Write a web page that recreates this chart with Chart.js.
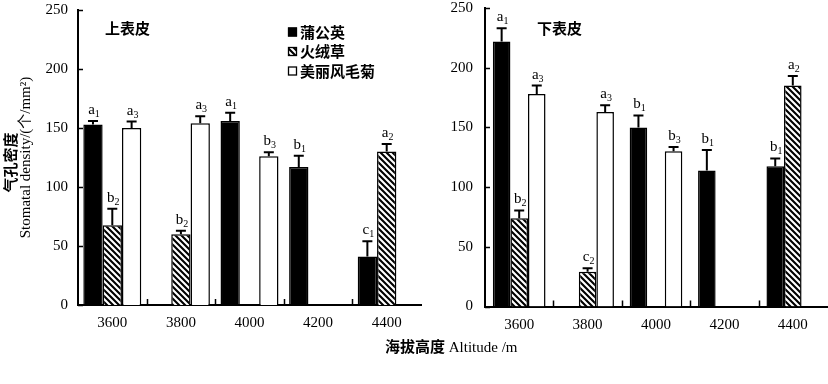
<!DOCTYPE html>
<html><head><meta charset="utf-8">
<script src="https://cdn.jsdelivr.net/npm/chart.js@4"></script>
<style>
html,body{margin:0;padding:0;background:#fff;}
#wrap{position:relative;width:828px;height:384px;overflow:hidden;background:#fff;}
#c1{position:absolute;left:0;top:0;}
#c2{position:absolute;left:424px;top:0;}
#xt{position:absolute;left:385px;top:337px;white-space:nowrap;font:15px 'Liberation Serif',serif;line-height:18px;color:#000;}
#xt .cj{font-family:'Noto Sans CJK SC',sans-serif;font-weight:bold;}
</style>
</head><body>
<div id="wrap">
<canvas id="c1" width="424" height="384"></canvas>
<canvas id="c2" width="404" height="384"></canvas>
<div id="xt"><span class="cj">海拔高度</span> Altitude /m</div>
</div>
<script>
const categories = ['3600','3800','4000','4200','4400'];
const seriesNames = ['蒲公英','火绒草','美丽风毛菊'];
const yTicks = [0,50,100,150,200,250];

// 上表皮 (upper epidermis)
const upperDandelion = [153, null, 156, 117, 41];
const upperDandelionErr = [3, null, 7, 9.5, 13];
const upperDandelionSig = ['a1', null, 'a1', 'b1', 'c1'];
const upperEdelweiss = [67.5, 60, null, null, 130];
const upperEdelweissErr = [14, 3, null, null, 6.5];
const upperEdelweissSig = ['b2', 'b2', null, null, 'a2'];
const upperSaussurea = [150, 154, 126, null, null];
const upperSaussureaErr = [5.5, 6, 3.5, null, null];
const upperSaussureaSig = ['a3', 'a3', 'b3', null, null];

// 下表皮 (lower epidermis)
const lowerDandelion = [222, null, 150, 114, 117.5];
const lowerDandelionErr = [11, null, 10, 17, 6.5];
const lowerDandelionSig = ['a1', null, 'b1', 'b1', 'b1'];
const lowerEdelweiss = [74, 29, null, null, 185];
const lowerEdelweissErr = [6.5, 3, null, null, 8];
const lowerEdelweissSig = ['b2', 'c2', null, null, 'a2'];
const lowerSaussurea = [178, 163, 130, null, null];
const lowerSaussureaErr = [7, 5.5, 3.5, null, null];
const lowerSaussureaSig = ['a3', 'a3', 'b3', null, null];

const SERIF = "'Liberation Serif', 'Noto Sans CJK SC', serif";
const CJK = "'Noto Sans CJK SC', sans-serif";

function hatchPattern() {
  const s = 6;
  const c = document.createElement('canvas');
  c.width = s; c.height = s;
  const g = c.getContext('2d');
  g.fillStyle = '#fff'; g.fillRect(0, 0, s, s);
  g.strokeStyle = '#000'; g.lineWidth = 2.1;
  g.beginPath();
  for (let k = -1; k <= 1; k++) {
    g.moveTo(k * s - 1, -1);
    g.lineTo(k * s + s + 1, s + 1);
  }
  g.stroke();
  return g.createPattern(c, 'repeat');
}
const HATCH = hatchPattern();

const innerTicks = {
  id: 'innerTicks',
  afterDraw(chart) {
    const {ctx, chartArea: ca, scales: {x, y}} = chart;
    ctx.save();
    ctx.strokeStyle = '#000'; ctx.lineWidth = 1.5;
    ctx.beginPath();
    y.ticks.forEach(t => {
      const py = Math.round(y.getPixelForValue(t.value)) + 0.5;
      ctx.moveTo(ca.left, py); ctx.lineTo(ca.left + 5, py);
    });
    for (let i = 1; i < chart.data.labels.length; i++) {
      const px = Math.round((x.getPixelForValue(i - 1) + x.getPixelForValue(i)) / 2) + 0.5;
      ctx.moveTo(px, ca.bottom); ctx.lineTo(px, ca.bottom - 6);
    }
    ctx.stroke();
    ctx.restore();
  }
};

const errorBars = {
  id: 'errorBars',
  afterDatasetsDraw(chart) {
    const {ctx, scales: {y}} = chart;
    ctx.save();
    chart.data.datasets.forEach((ds, di) => {
      const meta = chart.getDatasetMeta(di);
      ds.data.forEach((v, j) => {
        if (v == null) return;
        const bar = meta.data[j];
        const top = y.getPixelForValue(v + ds.errors[j]);
        ctx.strokeStyle = '#000'; ctx.lineWidth = 2;
        ctx.beginPath();
        ctx.moveTo(bar.x, bar.y); ctx.lineTo(bar.x, top);
        ctx.moveTo(bar.x - 5, top); ctx.lineTo(bar.x + 5, top);
        ctx.stroke();
        const s = ds.sig[j];
        if (!s) return;
        const letter = s[0], sub = s.slice(1);
        ctx.fillStyle = '#000';
        ctx.textBaseline = 'alphabetic'; ctx.textAlign = 'left';
        ctx.font = '15px ' + SERIF;
        const w1 = ctx.measureText(letter).width;
        ctx.font = '10px ' + SERIF;
        const w2 = ctx.measureText(sub).width;
        const x0 = bar.x - (w1 + w2) / 2 + 1;
        const base = top - 7;
        ctx.font = '15px ' + SERIF;
        ctx.fillText(letter, x0, base);
        ctx.font = '10px ' + SERIF;
        ctx.fillText(sub, x0 + w1, base + 3);
      });
    });
    ctx.restore();
  }
};

const decorations = {
  id: 'decorations',
  afterDraw(chart, args, opts) {
    const {ctx, chartArea: ca} = chart;
    ctx.save();
    ctx.fillStyle = '#000';
    ctx.font = 'bold 15px ' + CJK;
    ctx.textBaseline = 'middle'; ctx.textAlign = 'left';
    ctx.fillText(opts.panelTitle, opts.titleX, 28);
    if (opts.legend) {
      chart.data.datasets.forEach((ds, i) => {
        const yy = 32 + i * 19.5;
        ctx.fillStyle = ds.backgroundColor;
        ctx.fillRect(288, yy - 4.5, 9, 9);
        ctx.strokeStyle = '#000'; ctx.lineWidth = 1.3;
        ctx.strokeRect(288.5, yy - 4, 8, 8);
        ctx.fillStyle = '#000';
        ctx.font = 'bold 15px ' + CJK;
        ctx.fillText(ds.label, 300, yy);
      });
    }
    if (opts.yTitle) {
      const cy = (ca.top + ca.bottom) / 2;
      ctx.textAlign = 'center'; ctx.textBaseline = 'middle';
      ctx.save();
      ctx.translate(10, cy + 5); ctx.rotate(-Math.PI / 2);
      ctx.font = 'bold 15px ' + CJK;
      ctx.fillText('气孔密度', 0, 0);
      ctx.restore();
      ctx.save();
      ctx.translate(26, cy); ctx.rotate(-Math.PI / 2);
      ctx.font = '15px ' + SERIF;
      ctx.fillText('Stomatal density/(个/mm²)', 0, 0);
      ctx.restore();
    }
    ctx.restore();
  }
};

function makeDatasets(vals, errs, sigs) {
  const fills = ['#000', HATCH, '#fff'];
  return vals.map((v, i) => ({
    label: seriesNames[i],
    data: v,
    errors: errs[i],
    sig: sigs[i],
    backgroundColor: fills[i],
    borderColor: '#000',
    borderWidth: 1.5,
    borderSkipped: 'bottom'
  }));
}

function makeChart(id, datasets, cfg) {
  return new Chart(document.getElementById(id), {
    type: 'bar',
    data: {labels: categories, datasets},
    options: {
      responsive: false,
      animation: false,
      events: [],
      categoryPercentage: cfg.catPct,
      barPercentage: 1.0,
      layout: {padding: {left: 0, right: cfg.padRight, top: cfg.padTop, bottom: 0}},
      plugins: {
        legend: {display: false},
        tooltip: {enabled: false},
        decorations: cfg.deco
      },
      scales: {
        x: {
          grid: {display: false, drawTicks: false},
          border: {display: true, color: '#000', width: 2},
          ticks: {color: '#000', padding: 11, font: {family: SERIF, size: 15, lineHeight: 1}},
          afterFit: a => { a.height = cfg.xHeight; a.paddingLeft = 0; a.paddingRight = 0; }
        },
        y: {
          min: 0, max: 250,
          grid: {display: false, drawTicks: false},
          border: {display: true, color: '#000', width: 2},
          afterBuildTicks: a => { a.ticks = yTicks.map(v => ({value: v})); },
          ticks: {color: '#000', padding: cfg.yPad, font: {family: SERIF, size: 15, lineHeight: 1}},
          afterFit: a => { a.width = cfg.yWidth; a.paddingTop = 0; a.paddingBottom = 0; }
        }
      }
    },
    plugins: [innerTicks, errorBars, decorations]
  });
}

makeChart('c1', makeDatasets(
  [upperDandelion, upperEdelweiss, upperSaussurea],
  [upperDandelionErr, upperEdelweissErr, upperSaussureaErr],
  [upperDandelionSig, upperEdelweissSig, upperSaussureaSig]), {
  catPct: 0.845, padRight: 3, padTop: 10, xHeight: 79, yWidth: 78, yPad: 10,
  deco: {panelTitle: '上表皮', titleX: 105, legend: true, yTitle: true}
});

makeChart('c2', makeDatasets(
  [lowerDandelion, lowerEdelweiss, lowerSaussurea],
  [lowerDandelionErr, lowerEdelweissErr, lowerSaussureaErr],
  [lowerDandelionSig, lowerEdelweissSig, lowerSaussureaSig]), {
  catPct: 0.77, padRight: 1, padTop: 8, xHeight: 77.5, yWidth: 61, yPad: 12,
  deco: {panelTitle: '下表皮', titleX: 113, legend: false, yTitle: false}
});
</script>
</body></html>
